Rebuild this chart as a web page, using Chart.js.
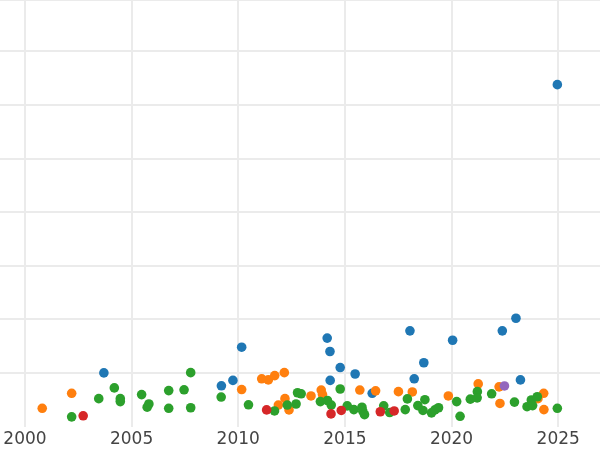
<!DOCTYPE html>
<html>
<head>
<meta charset="utf-8">
<script src="https://cdn.jsdelivr.net/npm/chart.js@4/dist/chart.umd.min.js"></script>
<style>
  html, body { margin: 0; padding: 0; background: #ffffff; }
  #wrap { width: 600px; height: 450px; }
</style>
</head>
<body>
<div id="wrap"><canvas id="c" width="600" height="450"></canvas></div>
<script>
// ---- data ----
const blueX  = [2003.70, 2009.21, 2009.75, 2010.16, 2014.17, 2014.30, 2014.31, 2014.78, 2015.48, 2016.28, 2018.05, 2018.25, 2018.70, 2020.05, 2022.38, 2023.02, 2023.23, 2024.96];
const blueY  = [1.00, 0.76, 0.86, 1.48, 1.65, 1.40, 0.86, 1.10, 0.98, 0.62, 1.785, 0.89, 1.19, 1.61, 1.785, 2.02, 0.87, 6.38];

const orangeX = [2000.81, 2002.19, 2010.16, 2011.10, 2011.41, 2011.71, 2012.16, 2012.19, 2011.88, 2012.38, 2013.41, 2013.89, 2013.95, 2015.70, 2016.44, 2017.51, 2018.16, 2019.85, 2021.25, 2022.23, 2022.27, 2024.05, 2024.32, 2024.33];
const orangeY = [0.34, 0.62, 0.69, 0.89, 0.87, 0.95, 1.005, 0.52, 0.40, 0.31, 0.57, 0.68, 0.595, 0.68, 0.665, 0.65, 0.645, 0.57, 0.795, 0.74, 0.43, 0.52, 0.62, 0.315];

const greenX = [2002.19, 2003.46, 2004.19, 2004.47, 2004.47, 2005.47, 2005.81, 2005.73, 2006.74, 2006.74, 2007.46, 2007.77, 2007.77, 2009.20, 2010.48, 2011.70, 2012.30, 2012.71, 2012.78, 2012.95, 2013.85, 2014.18, 2014.36, 2014.78, 2015.11, 2015.42, 2015.80, 2015.84, 2015.92, 2016.82, 2017.10, 2017.83, 2017.93, 2018.42, 2018.75, 2018.66, 2019.06, 2019.22, 2019.39, 2020.24, 2020.40, 2020.88, 2021.21, 2021.20, 2021.88, 2022.95, 2023.54, 2023.74, 2023.80, 2024.02, 2024.96];
const greenY = [0.18, 0.52, 0.72, 0.52, 0.465, 0.595, 0.42, 0.36, 0.67, 0.34, 0.685, 1.005, 0.35, 0.55, 0.405, 0.29, 0.40, 0.42, 0.63, 0.61, 0.465, 0.485, 0.40, 0.70, 0.385, 0.315, 0.36, 0.285, 0.22, 0.385, 0.26, 0.315, 0.515, 0.39, 0.50, 0.30, 0.255, 0.31, 0.35, 0.465, 0.19, 0.51, 0.65, 0.535, 0.61, 0.455, 0.37, 0.495, 0.39, 0.555, 0.34];

const redX = [2002.73, 2011.33, 2014.35, 2014.83, 2016.66, 2017.31];
const redY = [0.20, 0.31, 0.235, 0.30, 0.275, 0.29];

const purpleX = [2022.48];
const purpleY = [0.757];

const xTickYears = [2000, 2005, 2010, 2015, 2020, 2025];

// ---- build chart ----
function pts(xs, ys) { return xs.map((x, i) => ({ x: x, y: ys[i] })); }
function ds(xs, ys, color) {
  return {
    data: pts(xs, ys),
    backgroundColor: color,
    borderColor: color,
    borderWidth: 0,
    pointRadius: 4.8,
    pointHoverRadius: 4.8
  };
}

new Chart(document.getElementById('c'), {
  type: 'scatter',
  data: {
    datasets: [
      ds(purpleX, purpleY, '#9467bd'),
      ds(redX, redY, '#d62728'),
      ds(greenX, greenY, '#2ca02c'),
      ds(orangeX, orangeY, '#ff7f0e'),
      ds(blueX, blueY, '#1f77b4')
    ]
  },
  options: {
    responsive: false,
    animation: false,
    layout: { padding: 0, autoPadding: false },
    plugins: { legend: { display: false }, tooltip: { enabled: false } },
    scales: {
      x: {
        type: 'linear',
        min: 1998.83,
        max: 2026.96,
        afterBuildTicks: (axis) => { axis.ticks = xTickYears.map(v => ({ value: v })); },
        afterFit: (axis) => { axis.height = 23.5; },
        ticks: {
          includeBounds: false,
          padding: 3,
          color: '#444444',
          font: { family: 'DejaVu Sans', size: 17 },
          maxRotation: 0,
          callback: (v) => String(v)
        },
        grid: { color: '#ebebeb', lineWidth: 2, drawTicks: false },
        border: { display: false }
      },
      y: {
        type: 'linear',
        min: 0,
        max: 7.96,
        ticks: { display: false, stepSize: 1 },
        grid: {
          color: (ctx) => (ctx.tick && ctx.tick.value === 0) ? 'rgba(0,0,0,0)' : '#ebebeb',
          lineWidth: 2,
          drawTicks: false
        },
        border: { display: false }
      }
    }
  }
});
</script>
</body>
</html>
